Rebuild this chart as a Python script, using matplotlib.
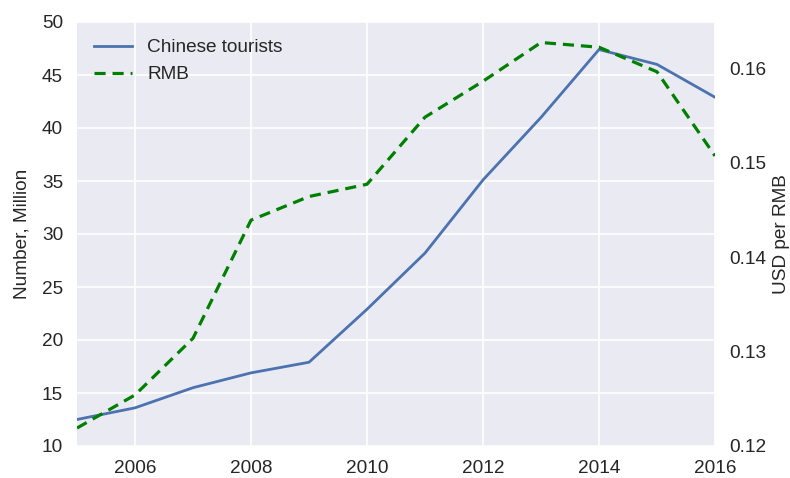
import matplotlib
matplotlib.use("Agg")
import matplotlib.pyplot as plt

years = [2005, 2006, 2007, 2008, 2009, 2010, 2011, 2012, 2013, 2014, 2015, 2016]
tourists = [12.5, 13.6, 15.5, 16.9, 17.9, 22.9, 28.2, 35.1, 41.0, 47.4, 46.0, 42.9]
rmb = [0.1219, 0.1254, 0.1314, 0.1439, 0.1464, 0.1477, 0.1548, 0.1586, 0.1627, 0.1622, 0.1596, 0.1507]
xticks = [2006, 2008, 2010, 2012, 2014, 2016]

plt.rcParams['font.family'] = ['Liberation Sans', 'DejaVu Sans']
plt.rcParams['lines.scale_dashes'] = False
text_c = '#262626'
plt.rcParams['text.color'] = text_c
plt.rcParams['axes.labelcolor'] = text_c
plt.rcParams['xtick.color'] = text_c
plt.rcParams['ytick.color'] = text_c

FS = 13.7

fig = plt.figure(figsize=(7.9, 4.78), dpi=100)
ax = fig.add_axes([77/790, 32/478, 638/790, 424/478])
ax.set_facecolor('#EAEAF2')
for s in ax.spines.values():
    s.set_visible(False)
ax.grid(True, color='white', linewidth=1.2)
ax.set_axisbelow(True)

l1, = ax.plot(years, tourists, color='#4C72B0', linewidth=2.0, label='Chinese tourists')
ax.set_xlim(2005, 2016)
ax.set_ylim(10, 50)
ax.set_xticks(xticks)
ax.set_xticklabels([str(x) for x in xticks])
ax.set_ylabel('Number, Million', fontsize=FS, labelpad=8)
ax.tick_params(axis='both', length=0, labelsize=FS, pad=10)

ax2 = ax.twinx()
for s in ax2.spines.values():
    s.set_visible(False)
ax2.grid(False)
l2, = ax2.plot(years, rmb, color='#008000', linestyle='--', dashes=(8, 5),
               linewidth=2.3, label='RMB')
ax2.set_ylim(0.12, 0.16487)
ax2.set_yticks([0.12, 0.13, 0.14, 0.15, 0.16])
ax2.set_yticklabels(['0.12', '0.13', '0.14', '0.15', '0.16'])
ax2.set_ylabel('USD per RMB', fontsize=FS, labelpad=5)
ax2.tick_params(axis='y', length=0, labelsize=FS, pad=10)

ax.legend([l1, l2], ['Chinese tourists', 'RMB'], loc='upper left', frameon=False,
          fontsize=FS, handlelength=2.0)

fig.savefig('out.png', dpi=100)
